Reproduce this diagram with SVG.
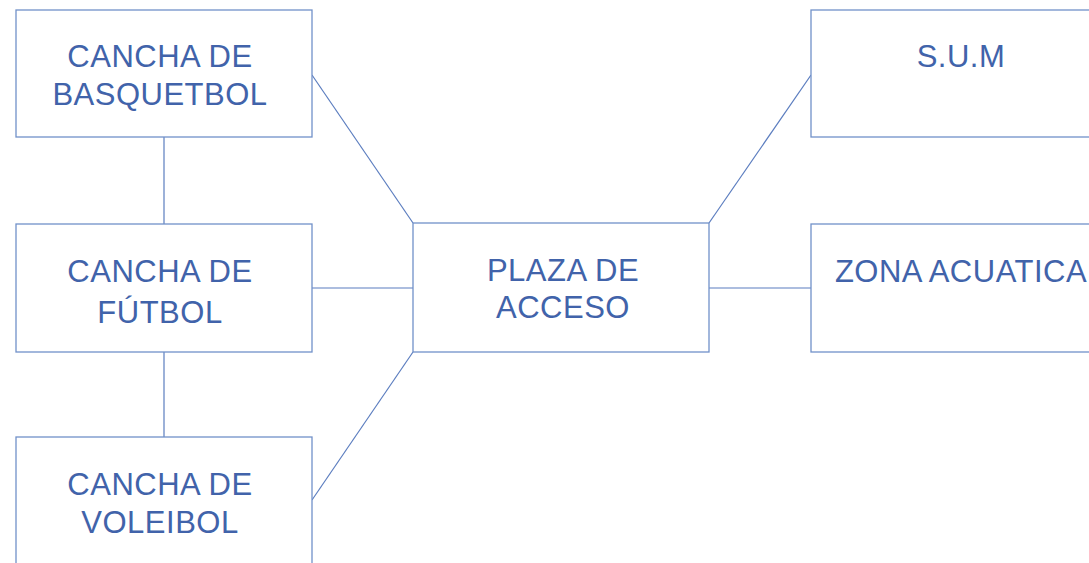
<svg xmlns="http://www.w3.org/2000/svg" width="1089" height="563" viewBox="0 0 1089 563">
<style>
.box{fill:#ffffff;stroke:#7191c9;stroke-width:1.3}
.lbl{font-family:"Liberation Sans",Arial,sans-serif;font-size:31px;letter-spacing:0.5px;fill:#4163aa;text-anchor:middle}
.con{stroke:#5b7dbf;stroke-width:1.2;fill:none}
</style>
<rect width="1089" height="563" fill="#ffffff"/>
<g id="connectors">
<line class="con" x1="164" y1="137" x2="164" y2="224"/>
<line class="con" x1="164" y1="352" x2="164" y2="437"/>
<line class="con" x1="312" y1="75" x2="413" y2="223"/>
<line class="con" x1="312" y1="288" x2="413" y2="288"/>
<line class="con" x1="312" y1="500" x2="413" y2="352"/>
<line class="con" x1="709" y1="223" x2="811" y2="75"/>
<line class="con" x1="709" y1="288" x2="811" y2="288"/>
</g>
<g id="basquetbol">
<rect class="box" x="16" y="10" width="296" height="127"/>
<text class="lbl" x="160" y="67">CANCHA DE</text>
<text class="lbl" x="160" y="105">BASQUETBOL</text>
</g>
<g id="futbol">
<rect class="box" x="16" y="224" width="296" height="128"/>
<text class="lbl" x="160" y="282">CANCHA DE</text>
<text class="lbl" x="160" y="323">FÚTBOL</text>
</g>
<g id="voleibol">
<rect class="box" x="16" y="437" width="296" height="140"/>
<text class="lbl" x="160" y="495">CANCHA DE</text>
<text class="lbl" x="160" y="533">VOLEIBOL</text>
</g>
<g id="plaza">
<rect class="box" x="413" y="223" width="296" height="129"/>
<text class="lbl" x="563" y="281">PLAZA DE</text>
<text class="lbl" x="563" y="318">ACCESO</text>
</g>
<g id="sum">
<rect class="box" x="811" y="10" width="296" height="127"/>
<text class="lbl" x="961" y="67">S.U.M</text>
</g>
<g id="zona">
<rect class="box" x="811" y="224" width="296" height="128"/>
<text class="lbl" x="961" y="282">ZONA ACUATICA</text>
</g>
</svg>
